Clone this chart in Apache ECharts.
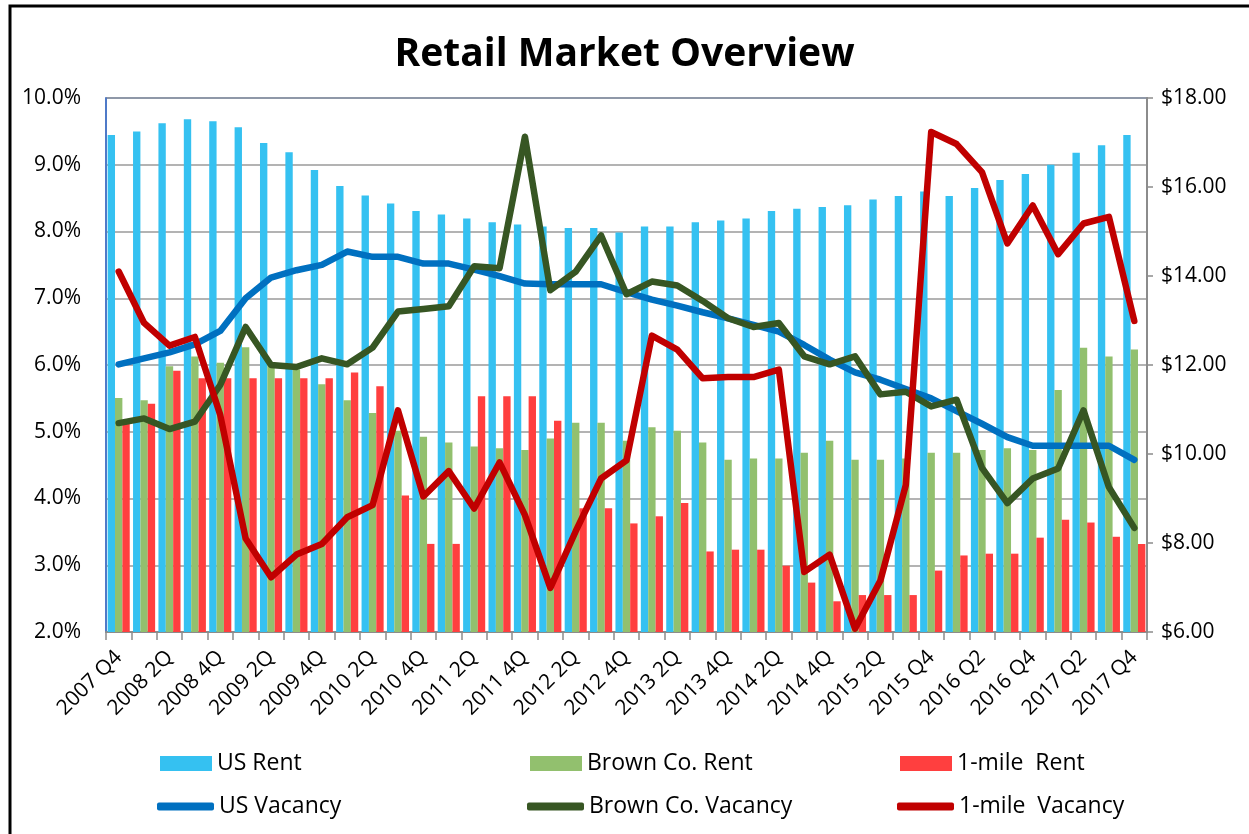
<!DOCTYPE html>
<html>
<head>
    <meta charset="utf-8">
    <title>Retail Market Overview</title>
    <script src="https://cdn.jsdelivr.net/npm/echarts@6/dist/echarts.min.js"></script>
    <style>
        html, body { margin: 0; padding: 0; background: #fff; }
    </style>
</head>
<body>
    <div id="main" style="width:1249px;height:834px;"></div>
    <script type="text/javascript">
        // quarters (only every other label is shown)
        var quarters = ['2007 Q4',
            '2008 1Q','2008 2Q','2008 3Q','2008 4Q',
            '2009 1Q','2009 2Q','2009 3Q','2009 4Q',
            '2010 1Q','2010 2Q','2010 3Q','2010 4Q',
            '2011 1Q','2011 2Q','2011 3Q','2011 4Q',
            '2012 1Q','2012 2Q','2012 3Q','2012 4Q',
            '2013 1Q','2013 2Q','2013 3Q','2013 4Q',
            '2014 1Q','2014 2Q','2014 3Q','2014 4Q',
            '2015 1Q','2015 2Q','2015 3Q','2015 Q4',
            '2016 Q1','2016 Q2','2016 Q3','2016 Q4',
            '2017 Q1','2017 Q2','2017 Q3','2017 Q4'];

        // rents, $ per sq ft (right axis)
        var usRent = [17.17,17.25,17.43,17.52,17.48,17.34,16.99,16.78,16.38,16.02,15.81,15.63,15.46,15.38,15.29,15.21,15.16,15.11,15.08,15.08,14.98,
                      15.11,15.11,15.21,15.25,15.29,15.46,15.51,15.55,15.59,15.72,15.80,15.90,15.80,15.98,16.16,16.29,16.50,16.77,16.94,17.17];
        var brownRent = [11.26,11.21,11.97,12.19,12.05,12.40,11.99,11.90,11.57,11.21,10.92,10.52,10.39,10.26,10.17,10.13,10.09,10.35,10.70,10.70,10.30,
                         10.60,10.52,10.26,9.87,9.90,9.90,10.03,10.30,9.87,9.87,9.90,10.03,10.03,10.09,10.13,10.09,11.44,12.39,12.19,12.35];
        var mileRent = [10.75,11.13,11.87,11.70,11.70,11.70,11.70,11.70,11.70,11.83,11.52,9.07,7.98,7.98,11.30,11.30,11.30,10.75,8.78,8.78,8.44,
                        8.60,8.90,7.81,7.85,7.85,7.49,7.11,6.69,6.83,6.83,6.83,7.38,7.72,7.76,7.76,8.12,8.52,8.46,8.14,7.98];

        // vacancy, % (left axis)
        var usVacancy = [6.01,6.10,6.19,6.31,6.51,7.00,7.31,7.42,7.50,7.70,7.62,7.62,7.52,7.52,7.43,7.33,7.22,7.21,7.21,7.21,7.09,
                         6.98,6.89,6.79,6.70,6.60,6.50,6.30,6.08,5.89,5.78,5.64,5.50,5.31,5.12,4.92,4.79,4.79,4.79,4.79,4.58];
        var brownVacancy = [5.13,5.20,5.04,5.15,5.70,6.57,6.00,5.97,6.10,6.01,6.26,6.80,6.84,6.88,7.48,7.45,9.42,7.12,7.40,7.94,7.06,
                            7.25,7.19,6.96,6.70,6.57,6.63,6.13,6.01,6.13,5.56,5.60,5.38,5.48,4.46,3.93,4.30,4.45,5.32,4.17,3.56];
        var mileVacancy = [7.40,6.63,6.29,6.42,5.25,3.40,2.82,3.16,3.32,3.72,3.90,5.32,4.03,4.41,3.85,4.54,3.75,2.66,3.51,4.30,4.57,
                           6.44,6.23,5.80,5.82,5.82,5.93,2.90,3.16,2.05,2.77,4.20,9.49,9.31,8.89,7.82,8.39,7.66,8.12,8.22,6.66];

        var FONT = 'Open Sans';

        function legendItem(name, left, top, isLine) {
            return {
                data: [name],
                left: left,
                top: top,
                padding: 0,
                selectedMode: false,
                icon: isLine ? 'roundRect' : 'rect',
                itemWidth: isLine ? 57 : 52,
                itemHeight: isLine ? 8 : 15,
                itemGap: 6,
                textStyle: { fontFamily: FONT, fontSize: 23, color: '#000' }
            };
        }

        var myChart = echarts.init(document.getElementById('main'));

        var option = {
            backgroundColor: '#fff',
            animation: false,
            title: {
                text: 'Retail Market Overview',
                left: 'center',
                top: 30,
                textStyle: { fontFamily: FONT, fontSize: 39, fontWeight: 'bold', color: '#000' }
            },
            graphic: [{
                type: 'rect',
                shape: { x: 10, y: 6, width: 1300, height: 900 },
                style: { fill: 'none', stroke: '#000', lineWidth: 3 },
                silent: true
            }],
            legend: [
                legendItem('US Rent', 160, 752, false),
                legendItem('Brown Co. Rent', 530, 752, false),
                legendItem('1-mile  Rent', 900, 752, false),
                legendItem('US Vacancy', 157, 795, true),
                legendItem('Brown Co. Vacancy', 527, 795, true),
                legendItem('1-mile  Vacancy', 897, 795, true)
            ],
            grid: {
                left: 106,
                right: 102,
                top: 98,
                bottom: 202,
                show: true,
                borderColor: '#4472C4',
                borderWidth: 1.5
            },
            xAxis: {
                type: 'category',
                data: quarters,
                boundaryGap: true,
                axisLine: { lineStyle: { color: '#8c8c8c', width: 2 } },
                axisTick: { show: true, interval: 0, length: 8, lineStyle: { color: '#8c8c8c', width: 1.5 } },
                axisLabel: {
                    interval: 1,
                    rotate: 45,
                    margin: 22,
                    fontFamily: FONT,
                    fontSize: 21,
                    color: '#000'
                },
                splitLine: { show: false }
            },
            yAxis: [{
                type: 'value',
                min: 2,
                max: 10,
                interval: 1,
                axisLine: { show: true, lineStyle: { color: '#4472C4', width: 1.5 } },
                axisTick: { show: false },
                axisLabel: {
                    margin: 25,
                    fontFamily: FONT,
                    fontSize: 21,
                    color: '#000',
                    formatter: function (v) { return v.toFixed(1) + '%'; }
                },
                splitLine: { show: true, lineStyle: { color: '#9a9a9a', width: 1.5 } }
            }, {
                type: 'value',
                min: 6,
                max: 18,
                interval: 2,
                position: 'right',
                axisLine: { show: true, lineStyle: { color: '#8c8c8c', width: 2 } },
                axisTick: { show: true, length: 6, lineStyle: { color: '#8c8c8c', width: 1.5 } },
                axisLabel: {
                    margin: 14,
                    fontFamily: FONT,
                    fontSize: 21,
                    color: '#000',
                    formatter: function (v) { return '$' + v.toFixed(2); }
                },
                splitLine: { show: false }
            }],
            series: [{
                name: 'US Rent',
                type: 'bar',
                yAxisIndex: 1,
                data: usRent,
                barGap: '0%',
                barCategoryGap: '13%',
                itemStyle: { color: '#35C1F1' }
            }, {
                name: 'Brown Co. Rent',
                type: 'bar',
                yAxisIndex: 1,
                data: brownRent,
                itemStyle: { color: '#92C06E' }
            }, {
                name: '1-mile  Rent',
                type: 'bar',
                yAxisIndex: 1,
                data: mileRent,
                itemStyle: { color: '#FF3F3F' }
            }, {
                name: 'US Vacancy',
                type: 'line',
                yAxisIndex: 0,
                data: usVacancy,
                symbol: 'none',
                itemStyle: { color: '#0070C0' },
                lineStyle: { color: '#0070C0', width: 6.5, cap: 'round', join: 'round' },
                z: 3
            }, {
                name: 'Brown Co. Vacancy',
                type: 'line',
                yAxisIndex: 0,
                data: brownVacancy,
                symbol: 'none',
                itemStyle: { color: '#375623' },
                lineStyle: { color: '#375623', width: 6.5, cap: 'round', join: 'round' },
                z: 4
            }, {
                name: '1-mile  Vacancy',
                type: 'line',
                yAxisIndex: 0,
                data: mileVacancy,
                symbol: 'none',
                itemStyle: { color: '#C00000' },
                lineStyle: { color: '#C00000', width: 6.5, cap: 'round', join: 'round' },
                z: 5
            }]
        };

        myChart.setOption(option);
    </script>
</body>
</html>
